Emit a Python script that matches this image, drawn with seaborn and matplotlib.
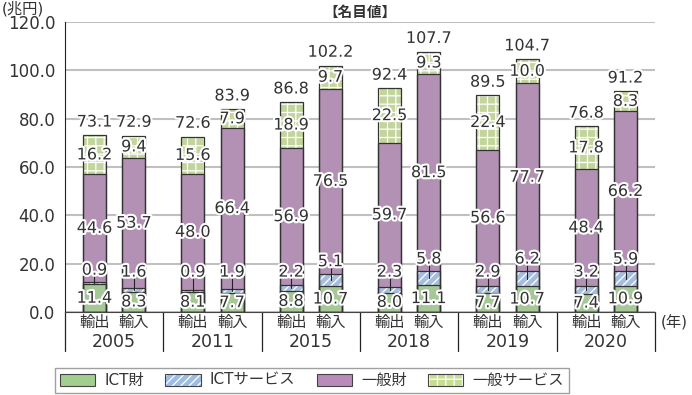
import matplotlib
matplotlib.use("Agg")
import matplotlib.pyplot as plt
import matplotlib.patheffects as pe
from matplotlib.patches import Patch
import seaborn as sns
import pandas as pd
import numpy as np

years = ['2005', '2011', '2015', '2018', '2019', '2020']
flows = ['輸出', '輸入']

# 輸出 (exports)
ict_goods_exp = [11.4, 8.1, 8.8, 8.0, 7.7, 7.4]
ict_serv_exp = [0.9, 0.9, 2.2, 2.3, 2.9, 3.2]
gen_goods_exp = [44.6, 48.0, 56.9, 59.7, 56.6, 48.4]
gen_serv_exp = [16.2, 15.6, 18.9, 22.5, 22.4, 17.8]
total_exp = [73.1, 72.6, 86.8, 92.4, 89.5, 76.8]

# 輸入 (imports)
ict_goods_imp = [8.3, 7.7, 10.7, 11.1, 10.7, 10.9]
ict_serv_imp = [1.6, 1.9, 5.1, 5.8, 6.2, 5.9]
gen_goods_imp = [53.7, 66.4, 76.5, 81.5, 77.7, 66.2]
gen_serv_imp = [9.4, 7.9, 9.7, 9.3, 10.0, 8.3]
total_imp = [72.9, 83.9, 102.2, 107.7, 104.7, 91.2]

series_names = ['ICT財', 'ICTサービス', '一般財', '一般サービス']
colors = ['#a3cf8e', '#9dbde6', '#b98bbb', '#c7de92']
hatches = ['', '////', '', '++']

df = pd.DataFrame({
    'year': years * 2,
    'flow': ['輸出'] * 6 + ['輸入'] * 6,
    's0': ict_goods_exp + ict_goods_imp,
    's1': ict_serv_exp + ict_serv_imp,
    's2': gen_goods_exp + gen_goods_imp,
    's3': gen_serv_exp + gen_serv_imp,
    'total': total_exp + total_imp,
})
df['c0'] = df['s0']
df['c1'] = df['c0'] + df['s1']
df['c2'] = df['c1'] + df['s2']
df['c3'] = df['c2'] + df['s3']

sns.set_style('white')
plt.rcParams['font.family'] = ['DejaVu Sans', 'Noto Sans CJK JP']
plt.rcParams['hatch.linewidth'] = 0.9

fig = plt.figure(figsize=(6.92, 3.95), dpi=100)
ax = fig.add_axes([65 / 692, 1 - 312 / 395, 590 / 692, 290 / 395])

bar_kw = dict(data=df, x='year', hue='flow', order=years, hue_order=flows,
              width=0.8, gap=0.42, errorbar=None, legend=False, ax=ax)

# stacked bars: draw cumulative heights from the tallest down
for i in [3, 2, 1, 0]:
    n0 = len(ax.patches)
    sns.barplot(y=f'c{i}', palette=[colors[i], colors[i]],
                edgecolor='white', linewidth=0, **bar_kw)
    for p in ax.patches[n0:]:
        p.set_hatch(hatches[i])
        p.set_zorder(2)
base_patches = ax.patches[len(ax.patches) - 12:]

# outlines
for i in [3, 2, 1, 0]:
    n0 = len(ax.patches)
    sns.barplot(y=f'c{i}', fill=False, palette=['#333333', '#333333'],
                linewidth=0.9, **bar_kw)
    for p in ax.patches[n0:]:
        p.set_zorder(3)

# bar centres from the library's own patches (first 6 = 輸出, next 6 = 輸入)
xc = [p.get_x() + p.get_width() / 2 for p in base_patches]

stroke = [pe.withStroke(linewidth=3, foreground='white')]


def label(x, y, v):
    ax.text(x, y, f'{v:.1f}', ha='center', va='center', fontsize=11.5,
            color='#333333', path_effects=stroke, zorder=6)


for k, row in df.iterrows():
    x = xc[k]
    label(x, row['c0'] / 2, row['s0'])
    ly = max(row['c1'] + 5, 16.5)
    ax.plot([x, x], [(row['c0'] + row['c1']) / 2, ly - 2.2], color='#222222',
            lw=0.8, zorder=5)
    label(x, ly, row['s1'])
    label(x, (row['c1'] + row['c2']) / 2, row['s2'])
    label(x, (row['c2'] + row['c3']) / 2, row['s3'])
    label(x, row['c3'] + 5.5, row['total'])

ax.set_xlim(-0.5, 5.5)
ax.set_ylim(0, 120)
ax.set_yticks(range(0, 121, 20))
ax.set_yticklabels([f'{v:.1f}' for v in range(0, 121, 20)], fontsize=12, color='#333333')
ax.tick_params(axis='y', length=0, pad=7)
ax.tick_params(axis='x', length=0, labelbottom=False)
ax.set_xlabel('')
ax.set_ylabel('')
ax.yaxis.grid(True, color='#c0c0c0', lw=1.5)
ax.set_axisbelow(True)
for s in ['top', 'right']:
    ax.spines[s].set_visible(False)
ax.spines['left'].set_color('#222222')
ax.spines['bottom'].set_color('#444444')

tr = ax.get_xaxis_transform()
for k in range(12):
    ax.text(xc[k], -0.037, df['flow'][k], transform=tr, ha='center', va='center',
            fontsize=11, color='#333333')
for i, y in enumerate(years):
    ax.text(i, -0.105, y, transform=tr, ha='center', va='center', fontsize=12.5,
            color='#333333')
for b in np.arange(-0.5, 6, 1):
    ax.plot([b, b], [0, -0.135], transform=tr, color='#222222', lw=0.9, clip_on=False)
ax.text(1.01, -0.037, '(年)', transform=ax.transAxes, ha='left', va='center',
        fontsize=11, color='#333333')

fig.text(0.003, 1 - 9 / 395, '(兆円)', ha='left', va='center', fontsize=11, color='#333333')
ax.text(0.5, 1 + 10 / 290, '【名目値】', transform=ax.transAxes, ha='center',
        va='center', fontsize=10.5, fontweight='bold', color='#333333')

handles = []
for i in range(4):
    fillp = Patch(facecolor=colors[i], edgecolor='white', hatch=hatches[i], lw=0)
    edgep = Patch(facecolor='none', edgecolor='#444444', lw=0.8)
    handles.append((fillp, edgep))
leg = fig.legend(handles, series_names, loc='center', bbox_to_anchor=(312 / 692, 1 - 380.5 / 395),
                 ncol=4, fontsize=11, frameon=True, fancybox=False, edgecolor='#888888',
                 handlelength=2.3, handleheight=0.8, handletextpad=0.6, columnspacing=1.4,
                 borderpad=0.35)
leg.get_frame().set_linewidth(1.0)
for t in leg.get_texts():
    t.set_color('#333333')

fig.savefig('out.png', dpi=100)
